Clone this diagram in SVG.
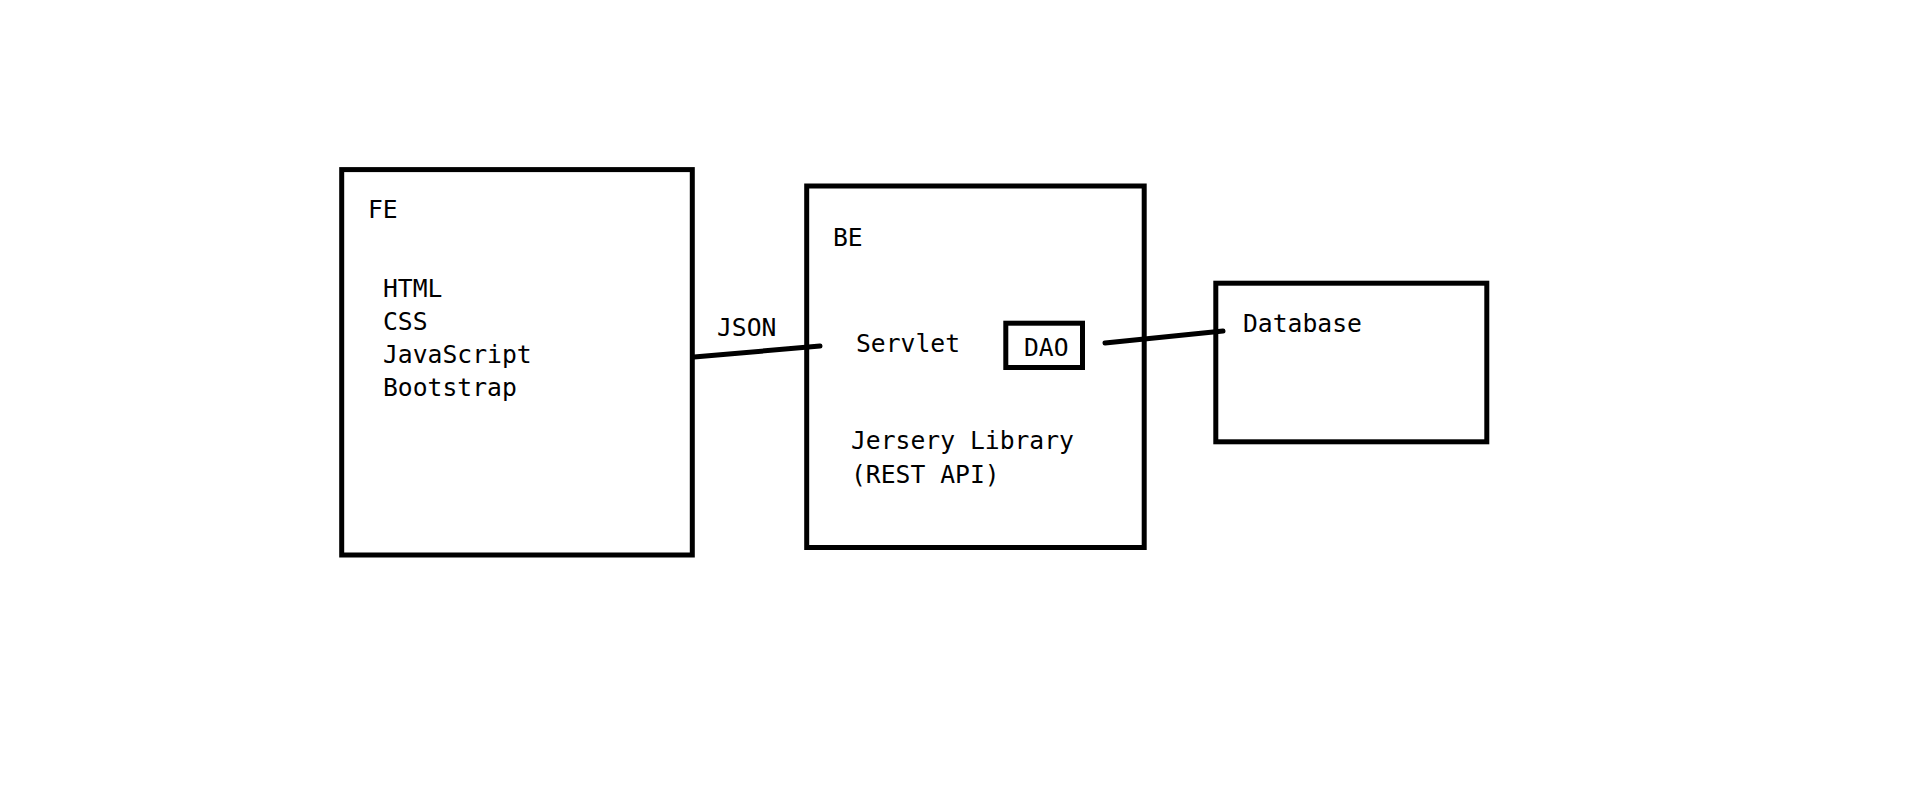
<svg xmlns="http://www.w3.org/2000/svg" width="1914" height="796" viewBox="0 0 1914 796">
<style>
.box{fill:none;stroke:#000;stroke-width:5}
.t{font-family:"DejaVu Sans Mono","Liberation Mono",monospace;font-size:24.7px;fill:#000}
.c{stroke:#000;stroke-width:5;stroke-linecap:round;fill:none}
</style>
<rect x="0" y="0" width="1914" height="796" fill="#fff"/>
<g id="fe">
<rect class="box" x="341.7" y="169.6" width="350.6" height="385.4"/>
<text class="t" x="368" y="218">FE</text>
<text class="t" x="383" y="297">HTML</text>
<text class="t" x="383" y="330">CSS</text>
<text class="t" x="383" y="363">JavaScript</text>
<text class="t" x="383" y="396">Bootstrap</text>
</g>
<g id="be">
<rect class="box" x="806.7" y="186" width="337.5" height="361.5"/>
<text class="t" x="833" y="246">BE</text>
<text class="t" x="856" y="352">Servlet</text>
<text class="t" x="851" y="449">Jersery Library</text>
<text class="t" x="851" y="483">(REST API)</text>
</g>
<g id="dao">
<rect class="box" x="1005.8" y="323.2" width="76.7" height="44.3"/>
<text class="t" x="1024" y="356">DAO</text>
</g>
<g id="database">
<rect class="box" x="1215.8" y="283.2" width="271" height="158.6"/>
<text class="t" x="1243" y="332">Database</text>
</g>
<g id="connectors">
<line class="c" x1="694" y1="357" x2="820" y2="346"/>
<line class="c" x1="1105" y1="343" x2="1223" y2="331"/>
<text class="t" x="717" y="336">JSON</text>
</g>
</svg>
